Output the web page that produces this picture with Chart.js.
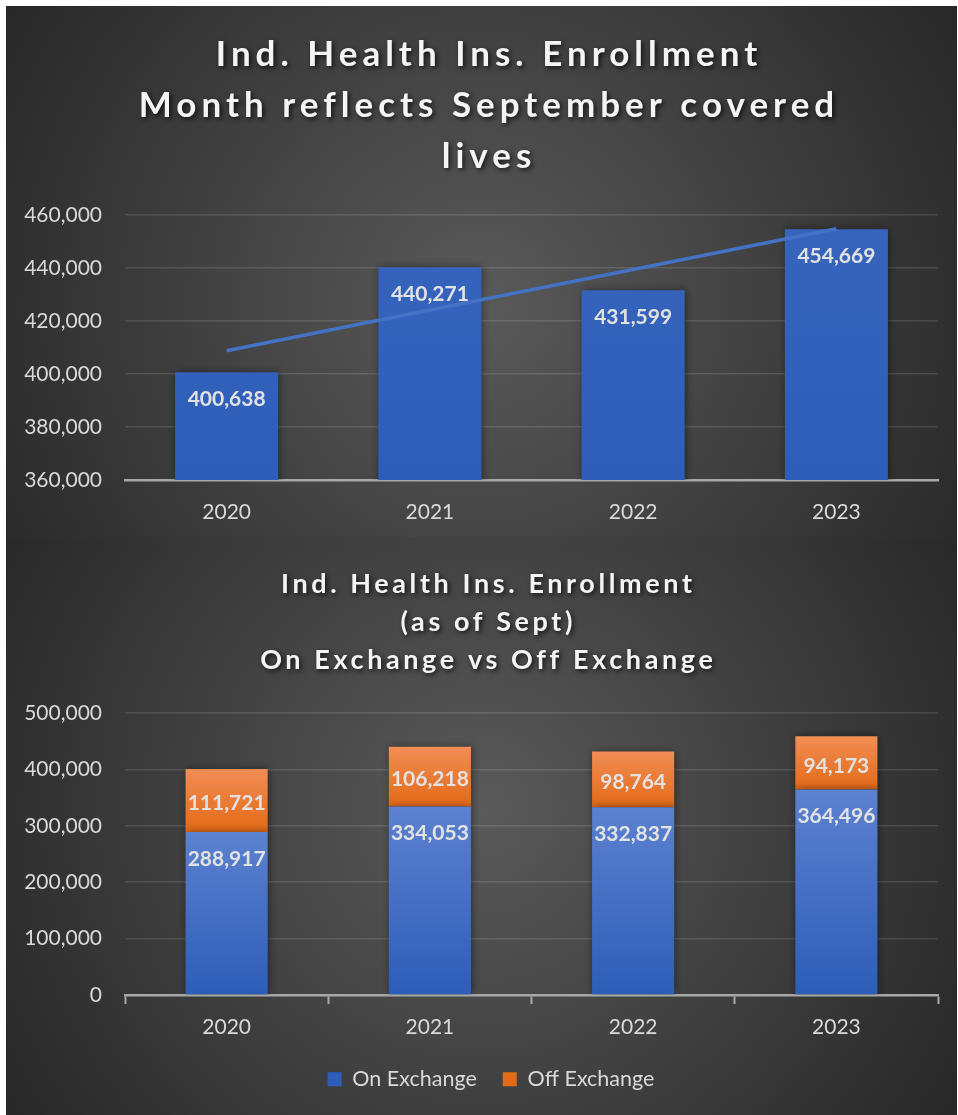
<!DOCTYPE html>
<html><head><meta charset="utf-8">
<script src="https://cdn.jsdelivr.net/npm/chart.js@4.4.0/dist/chart.umd.min.js"></script>
<style>
html,body{margin:0;padding:0;background:#fff;width:958px;height:1115px;overflow:hidden;}
#wrap{position:absolute;left:6px;top:6px;width:951px;height:1109px;}
#c1{position:absolute;left:0;top:0;}
#c2{position:absolute;left:0;top:532px;}
</style></head><body>
<div id="wrap"><canvas id="c1" width="951" height="532"></canvas><canvas id="c2" width="951" height="577"></canvas></div>
<script>
// ---- data ----
const years = ['2020', '2021', '2022', '2023'];
const totalEnrollment = [400638, 440271, 431599, 454669];
const onExchange = [288917, 334053, 332837, 364496];
const offExchange = [111721, 106218, 98764, 94173];
const seriesNames = ['On Exchange', 'Off Exchange'];
const topTitle = ['Ind. Health Ins. Enrollment', 'Month reflects September covered', 'lives'];
const bottomTitle = ['Ind. Health Ins. Enrollment', '(as of Sept)', 'On Exchange vs Off Exchange'];
const topYRange = [360000, 460000, 20000];
const bottomYRange = [0, 500000, 100000];

// least-squares linear trendline of the bar values (as in the source chart)
function linearTrend(v) {
  const n = v.length, xs = v.map((_, i) => i + 1);
  const mx = xs.reduce((a, b) => a + b, 0) / n, my = v.reduce((a, b) => a + b, 0) / n;
  let sxy = 0, sxx = 0;
  xs.forEach((x, i) => { sxy += (x - mx) * (v[i] - my); sxx += (x - mx) * (x - mx); });
  const s = sxy / sxx;
  return xs.map(x => my + s * (x - mx));
}

const FONT = 'Lato';
const TXT = '#d9d9d9';
const fmt = v => Number(v).toLocaleString('en-US');

const bgPlugin = {
  id: 'bg',
  beforeDraw(chart, args, o) {
    const { ctx, width, height } = chart;
    const cx = width * o.cx, cy = height * o.cy;
    const g = ctx.createRadialGradient(cx, cy, 0, cx, cy, width * o.r);
    g.addColorStop(0, '#5a5a5a');
    g.addColorStop(1, '#252525');
    ctx.save(); ctx.fillStyle = g; ctx.fillRect(0, 0, width, height); ctx.restore();
  }
};

const titlePlugin = {
  id: 'fancyTitle',
  afterDraw(chart, args, o) {
    const ctx = chart.ctx;
    ctx.save();
    ctx.font = `bold ${o.size}px ${FONT}`;
    ctx.letterSpacing = o.spacing + 'px';
    ctx.fillStyle = '#f4f4f4';
    ctx.textAlign = 'center';
    ctx.textBaseline = 'middle';
    ctx.shadowColor = 'rgba(0,0,0,0.75)';
    ctx.shadowBlur = 5; ctx.shadowOffsetX = 2; ctx.shadowOffsetY = 2;
    o.lines.forEach((t, i) => ctx.fillText(t, chart.width / 2 + o.dx + o.spacing / 2, o.y0 + i * o.dy));
    ctx.restore();
  }
};

const shadowPlugin = {
  id: 'barShadow',
  beforeDatasetDraw(chart, args) {
    if (args.meta.type !== 'bar') return;
    const c = chart.ctx; c.save();
    c.shadowColor = 'rgba(0,0,0,0.45)'; c.shadowBlur = 8; c.shadowOffsetX = 1; c.shadowOffsetY = 0;
  },
  afterDatasetDraw(chart, args) { if (args.meta.type === 'bar') chart.ctx.restore(); }
};

const labelPlugin = {
  id: 'vlabels',
  afterDatasetsDraw(chart, args, o) {
    const ctx = chart.ctx;
    ctx.save();
    ctx.font = `bold 21px ${FONT}`;
    ctx.fillStyle = '#e2e2e2';
    ctx.textAlign = 'center'; ctx.textBaseline = 'middle';
    chart.data.datasets.forEach((ds, di) => {
      const meta = chart.getDatasetMeta(di);
      if (meta.type !== 'bar' || meta.hidden) return;
      const mode = o.modes[di];
      meta.data.forEach((el, i) => {
        const y = mode === 'center' ? (el.y + el.base) / 2 + 3 : el.y + 27;
        ctx.fillText(fmt(ds.data[i]), el.x, y);
      });
    });
    ctx.restore();
  }
};

// nudge the legend horizontally (source legend sits slightly right of centre)
const legendShift = {
  id: 'legendShift',
  afterLayout(chart, args, o) {
    if (chart.legend && o.dx) { chart.legend.left += o.dx; chart.legend.right += o.dx; }
  }
};

function segGradient(light, dark, fallback) {
  return (c) => {
    if (c.type !== 'data') return fallback;
    const chart = c.chart, ys = chart.scales.y;
    if (!chart.chartArea || !ys) return fallback;
    let start = ys.min;
    if (ys.options.stacked) {
      start = 0;
      for (let d = 0; d < c.datasetIndex; d++) start += chart.data.datasets[d].data[c.dataIndex];
    }
    const end = start + c.raw;
    const yTop = ys.getPixelForValue(end), yBot = ys.getPixelForValue(start);
    if (!isFinite(yTop) || !isFinite(yBot) || yTop === yBot) return fallback;
    const g = chart.ctx.createLinearGradient(0, yTop, 0, yBot);
    g.addColorStop(0, light); g.addColorStop(1, dark);
    return g;
  };
}
const blueFill = segGradient('#5c81d0', '#2d5db8', '#4472c4');
const orangeFill = segGradient('#f18d55', '#e36a17', '#ed7d31');

// ---- top chart ----
new Chart(document.getElementById('c1'), {
  data: {
    labels: years,
    datasets: [
      { type: 'line', data: linearTrend(totalEnrollment), borderColor: '#4472c4', borderWidth: 3.5,
        pointRadius: 0, fill: false, tension: 0, order: 0 },
      { type: 'bar', label: 'Enrollment', data: totalEnrollment, backgroundColor: blueFill,
        borderWidth: 0, barPercentage: 0.507, categoryPercentage: 1, order: 1 }
    ]
  },
  options: {
    responsive: false, animation: false,
    layout: { padding: { left: 0, right: 19, top: 209, bottom: 0 } },
    plugins: {
      legend: { display: false }, tooltip: { enabled: false },
      bg: { cx: 0.5, cy: 0.56, r: 0.62 },
      fancyTitle: { lines: topTitle, size: 35, spacing: 5, y0: 49, dy: 51, dx: 5 },
      vlabels: { modes: { 1: 'end' } }
    },
    scales: {
      x: {
        grid: { display: false },
        border: { display: true, color: '#a8a8a8', width: 2.5 },
        ticks: { color: TXT, font: { family: FONT, size: 21 }, padding: 12 },
        afterFit(s) { s.height = 58; }
      },
      y: {
        min: topYRange[0], max: topYRange[1],
        ticks: { stepSize: topYRange[2], color: TXT, font: { family: FONT, size: 21 }, padding: 23, callback: v => fmt(v) },
        grid: { color: 'rgba(255,255,255,0.12)', lineWidth: 1.5, drawTicks: false },
        border: { display: false },
        afterFit(s) { s.width = 119; }
      }
    }
  },
  plugins: [bgPlugin, titlePlugin, shadowPlugin, labelPlugin]
});

// ---- bottom chart ----
new Chart(document.getElementById('c2'), {
  type: 'bar',
  data: {
    labels: years,
    datasets: [
      { label: seriesNames[0], data: onExchange, backgroundColor: blueFill, borderWidth: 0,
        barPercentage: 0.404, categoryPercentage: 1 },
      { label: seriesNames[1], data: offExchange, backgroundColor: orangeFill, borderWidth: 0,
        barPercentage: 0.404, categoryPercentage: 1 }
    ]
  },
  options: {
    responsive: false, animation: false,
    layout: { padding: { left: 0, right: 19, top: 175, bottom: 15 } },
    plugins: {
      tooltip: { enabled: false },
      legend: {
        position: 'bottom',
        labels: { boxWidth: 14, boxHeight: 14, padding: 26, color: TXT, font: { family: FONT, size: 21.5 } }
      },
      legendShift: { dx: 19 },
      bg: { cx: 0.5, cy: 0.47, r: 0.62 },
      fancyTitle: { lines: bottomTitle, size: 27, spacing: 3.6, y0: 46, dy: 38, dx: 5 },
      vlabels: { modes: { 0: 'end', 1: 'center' } }
    },
    scales: {
      x: {
        stacked: true,
        grid: { display: true, drawOnChartArea: false, drawTicks: true, tickLength: 9, tickColor: '#a8a8a8', tickWidth: 2, color: '#a8a8a8' },
        border: { display: true, color: '#a8a8a8', width: 2.5 },
        ticks: { color: TXT, font: { family: FONT, size: 21 }, padding: 11 },
        afterFit(s) { s.height = 47.5; }
      },
      y: {
        stacked: true,
        min: bottomYRange[0], max: bottomYRange[1],
        ticks: { stepSize: bottomYRange[2], color: TXT, font: { family: FONT, size: 21 }, padding: 23, callback: v => fmt(v) },
        grid: { color: 'rgba(255,255,255,0.12)', lineWidth: 1.5, drawTicks: false },
        border: { display: false },
        afterFit(s) { s.width = 119; }
      }
    }
  },
  plugins: [bgPlugin, titlePlugin, shadowPlugin, labelPlugin, legendShift]
});
</script>
</body></html>
